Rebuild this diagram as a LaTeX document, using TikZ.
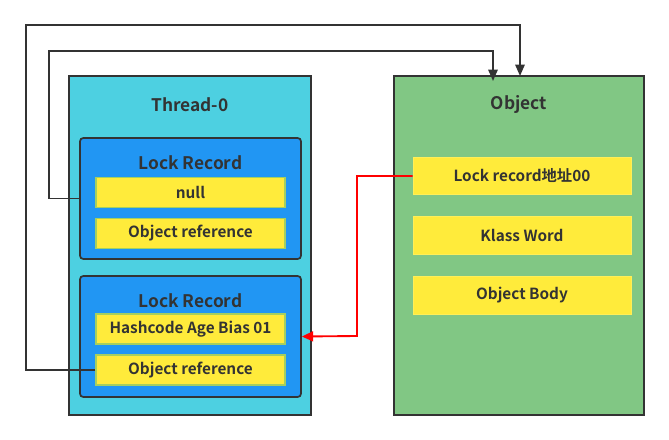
\documentclass[tikz,border=0pt]{standalone}
\usepackage{fontspec}
\setmainfont{Noto Sans CJK SC}[BoldFont={Noto Sans CJK SC Bold}]
\usetikzlibrary{arrows.meta}
\definecolor{thread_cyan}{HTML}{4DD0E1}
\definecolor{object_green}{HTML}{81C784}
\definecolor{record_blue}{HTML}{2196F3}
\definecolor{field_yellow}{HTML}{FFEB3B}
\definecolor{field_edge}{HTML}{A5CF5F}
\definecolor{line_gray}{HTML}{333333}

\begin{document}
\begin{tikzpicture}[x=0.75pt,y=-0.75pt,
    outerbox/.style={draw=line_gray,line width=1.3pt,minimum width=181.5pt,minimum height=254.25pt},
    recordbox/.style={draw=line_gray,line width=1.3pt,rounded corners=2.5pt,fill=record_blue,minimum width=165.75pt,minimum height=90.75pt},
    field/.style={draw=field_edge,line width=0.8pt,fill=field_yellow,minimum width=141.75pt,minimum height=22.5pt,text=line_gray,font=\bfseries\fontsize{11.5}{13}\selectfont},
    objfield/.style={draw=field_yellow!85!white,line width=0.6pt,fill=field_yellow,minimum width=163.5pt,minimum height=28pt,text=line_gray,font=\bfseries\fontsize{11.5}{13}\selectfont},
    title/.style={text=line_gray,font=\bfseries\fontsize{13}{15}\selectfont},
    conn/.style={draw=line_gray,line width=1.3pt,-{Triangle[length=8.5pt,width=7pt]}},
    redconn/.style={draw=red,line width=1.4pt,-{Triangle[length=8.5pt,width=7.5pt]}}]
    \useasboundingbox (0,0) rectangle (669,440);

    % thread side
    \node[outerbox,fill=thread_cyan] (thread) at (190,245.5) {};
    \node[title] (threadname) at (190,104.5) {Thread-0};
    \node[recordbox] (lr1) at (190.5,198.5) {};
    \node[title] (lr1name) at (190.5,162.5) {Lock Record};
    \node[field] (null) at (190.5,192.5) {null};
    \node[field] (ref1) at (190.5,233.5) {Object reference};
    \node[recordbox] (lr2) at (190.5,336.5) {};
    \node[title] (lr2name) at (190.5,300.5) {Lock Record};
    \node[field] (hash) at (190.5,329) {Hashcode Age Bias 01};
    \node[field] (ref2) at (190.5,370) {Object reference};

    % object side
    \node[outerbox,fill=object_green,minimum width=187.5pt] (obj) at (519,245.5) {};
    \node[title] (objname) at (519,104.5) {Object};
    \node[objfield] (lockaddr) at (522,176) {Lock record地址00};
    \node[objfield] (klass) at (522,235.5) {Klass Word};
    \node[objfield] (body) at (522,295.5) {Object Body};

    % connectors
    \coordinate (outtop) at (520,76);
    \coordinate (intop) at (493,81);
    \draw[conn] (ref2.west) -| (26,25) -| (outtop);
    \draw[conn] (lr1.west) -| (49,51) -| (intop);
    \draw[redconn] (lockaddr.west) -| (357,336) -- (lr2.east);
\end{tikzpicture}
\end{document}
